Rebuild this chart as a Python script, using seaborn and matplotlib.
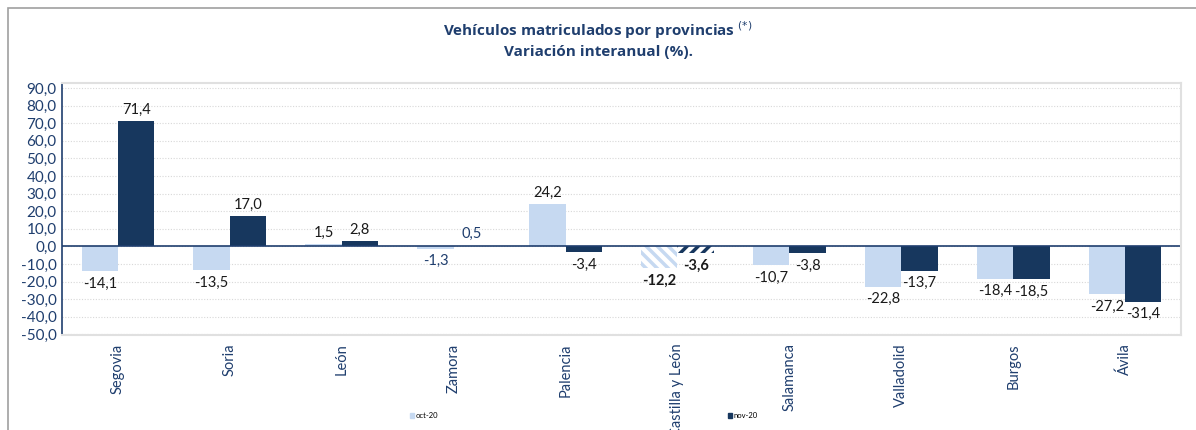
import pandas as pd
import seaborn as sns
import matplotlib.pyplot as plt
from matplotlib.patches import Rectangle

# Datos
provincias = ['Segovia', 'Soria', 'León', 'Zamora', 'Palencia', 'Castilla y León',
              'Salamanca', 'Valladolid', 'Burgos', 'Ávila']
oct20 = [-14.1, -13.5, 1.5, -1.3, 24.2, -12.2, -10.7, -22.8, -18.4, -27.2]
nov20 = [71.4, 17.0, 2.8, 0.5, -3.4, -3.6, -3.8, -13.7, -18.5, -31.4]
series = ['oct-20', 'nov-20']

df = pd.DataFrame({'provincia': provincias * 2,
                   'serie': [series[0]] * len(provincias) + [series[1]] * len(provincias),
                   'valor': oct20 + nov20})

c_oct = '#c6d9f1'
c_nov = '#17375e'
azul = '#1f3e6e'

plt.rcParams['font.family'] = ['Lato', 'DejaVu Sans']
plt.rcParams['hatch.linewidth'] = 2.5

fig = plt.figure(figsize=(11.96, 4.30), dpi=100)
ax = fig.add_axes([62 / 1196, 1 - 335 / 430, (1181 - 62) / 1196, (335 - 83) / 430])

sns.barplot(data=df, x='provincia', y='valor', hue='serie', order=provincias,
            hue_order=series, palette=[c_oct, c_nov], width=0.65, saturation=1,
            ax=ax, legend=False)

ax.set_ylim(-50.3, 92.8)
ax.set_yticks(range(-50, 91, 10))
ax.set_yticklabels([f'{v:.1f}'.replace('.', ',') for v in range(-50, 91, 10)],
                   color=azul, fontsize=11)
ax.set_xlabel('')
ax.set_ylabel('')
ax.tick_params(axis='x', length=0, rotation=90, labelcolor=azul, labelsize=10.5, pad=6)
ax.tick_params(axis='y', length=0, pad=4)
ax.yaxis.grid(True, linestyle=(0, (1, 1.5)), color='#d8d8d8', linewidth=0.8)
ax.set_axisbelow(True)
ax.axhline(0, color=azul, linewidth=1.2, zorder=1)
for s in ['top', 'right', 'bottom']:
    ax.spines[s].set_color('#e0e0e0')
    ax.spines[s].set_linewidth(1.5)
ax.spines['left'].set_color(azul)
ax.spines['left'].set_linewidth(1.2)

# Castilla y León rayado
idx = provincias.index('Castilla y León')
bars = ax.patches
n = len(provincias)
for j, (col, h) in enumerate([(c_oct, '\\\\\\'), (c_nov, '///')]):
    b = bars[j * n + idx]
    b.set_facecolor('white')
    b.set_edgecolor(col)
    b.set_hatch(h)
    b.set_linewidth(0)

# Etiquetas de valor
for j, vals in enumerate([oct20, nov20]):
    for i, v in enumerate(vals):
        b = bars[j * n + i]
        x = b.get_x() + b.get_width() / 2
        color = azul if provincias[i] == 'Zamora' else '#1a1a1a'
        weight = 'bold' if provincias[i] == 'Castilla y León' else 'normal'
        off = 3 if v >= 0 else -4
        ax.annotate(f'{v:.1f}'.replace('.', ','), (x, v), xytext=(0, off),
                    textcoords='offset points', ha='center',
                    va='bottom' if v >= 0 else 'top', fontsize=10.5,
                    color=color, fontweight=weight)

fig.text(0.5, 1 - 30 / 430, 'Vehículos matriculados por provincias $^{(*)}$',
         ha='center', va='center', fontsize=11, fontweight='bold', color=azul,
         family=['Open Sans', 'DejaVu Sans'])
fig.text(0.5, 1 - 52 / 430, 'Variación interanual (%).',
         ha='center', va='center', fontsize=11, fontweight='bold', color=azul,
         family=['Open Sans', 'DejaVu Sans'])

handles = [Rectangle((0, 0), 1, 1, color=c_oct), Rectangle((0, 0), 1, 1, color=c_nov)]
fig.legend(handles, series, loc='center', bbox_to_anchor=(0.488, 1 - 416 / 430), ncol=2,
           frameon=False, fontsize=5.5, handlelength=0.5, handleheight=0.6,
           handletextpad=0.2, columnspacing=38)

# Marco
fig.patches.append(Rectangle((8 / 1196, -0.2), 1.2, 1 - 8 / 430 + 0.2,
                             transform=fig.transFigure, fill=False,
                             edgecolor='#a0a0a0', linewidth=1.2))

fig.savefig('out.png', dpi=100)
